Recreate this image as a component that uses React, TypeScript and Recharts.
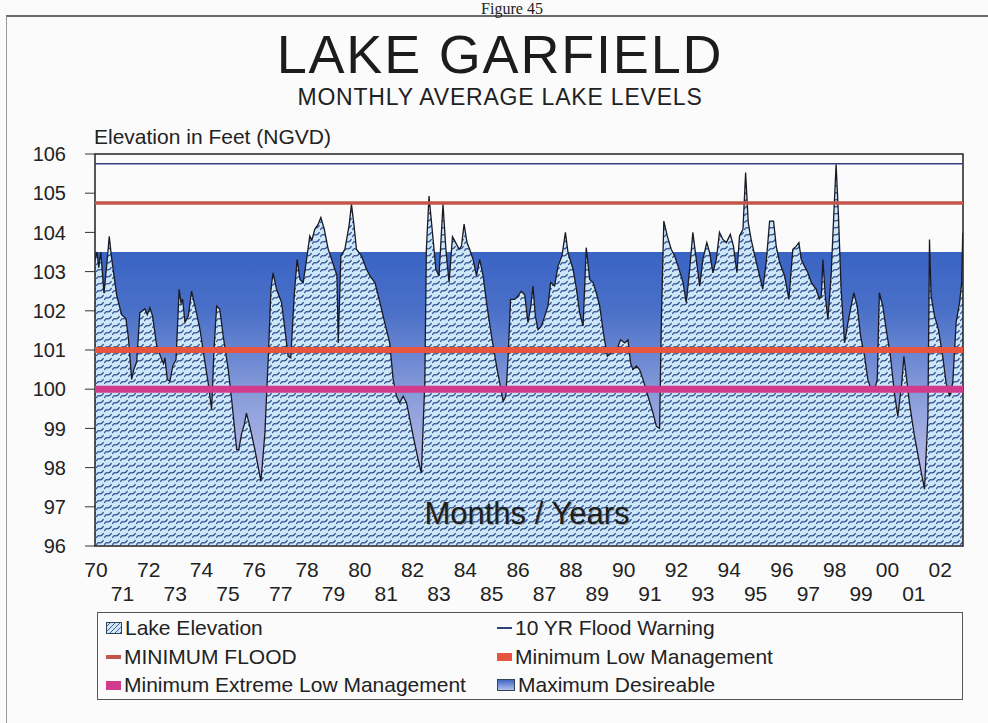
import React from 'react';
import { ComposedChart, Area, XAxis, YAxis, ReferenceLine, ReferenceArea } from 'recharts';

// Lake elevation trace (decimal year, feet NGVD)
const sampleYears = [
  1970.0, 1970.08, 1970.14, 1970.22, 1970.34, 1970.45, 1970.54, 1970.62, 1970.69, 1970.82,
  1971.01, 1971.17, 1971.26, 1971.39, 1971.47, 1971.58, 1971.7, 1971.8, 1971.89, 1971.98,
  1972.08, 1972.18, 1972.34, 1972.53, 1972.6, 1972.65, 1972.74, 1972.84, 1972.95, 1973.07,
  1973.19, 1973.26, 1973.32, 1973.41, 1973.54, 1973.66, 1973.76, 1973.83, 1973.98, 1974.17,
  1974.29, 1974.42, 1974.51, 1974.61, 1974.73, 1974.86, 1975.05, 1975.18, 1975.37, 1975.45,
  1975.56, 1975.66, 1975.74, 1975.87, 1976.06, 1976.29, 1976.44, 1976.57, 1976.67, 1976.75,
  1976.88, 1977.07, 1977.2, 1977.32, 1977.42, 1977.55, 1977.66, 1977.77, 1977.89, 1978.02,
  1978.14, 1978.22, 1978.33, 1978.46, 1978.56, 1978.69, 1978.84, 1978.97, 1979.09, 1979.17,
  1979.22, 1979.28, 1979.32, 1979.47, 1979.63, 1979.72, 1979.82, 1979.91, 1980.1, 1980.29,
  1980.42, 1980.61, 1980.8, 1980.98, 1981.17, 1981.3, 1981.43, 1981.55, 1981.68, 1981.81,
  1982.06, 1982.25, 1982.37, 1982.5, 1982.56, 1982.66, 1982.79, 1982.92, 1983.04, 1983.19,
  1983.3, 1983.42, 1983.55, 1983.67, 1983.8, 1983.89, 1983.99, 1984.1, 1984.2, 1984.33,
  1984.46, 1984.58, 1984.71, 1984.84, 1985.03, 1985.22, 1985.34, 1985.47, 1985.57, 1985.66,
  1985.75, 1985.91, 1986.03, 1986.16, 1986.29, 1986.41, 1986.52, 1986.6, 1986.69, 1986.79,
  1986.92, 1987.05, 1987.17, 1987.27, 1987.42, 1987.55, 1987.7, 1987.83, 1987.93, 1988.12,
  1988.25, 1988.37, 1988.5, 1988.62, 1988.75, 1988.88, 1989.0, 1989.13, 1989.29, 1989.42,
  1989.57, 1989.76, 1989.92, 1990.08, 1990.2, 1990.3, 1990.39, 1990.52, 1990.64, 1990.77,
  1990.96, 1991.15, 1991.28, 1991.4, 1991.47, 1991.56, 1991.69, 1991.84, 1991.97, 1992.1,
  1992.29, 1992.41, 1992.54, 1992.66, 1992.79, 1992.92, 1993.04, 1993.19, 1993.3, 1993.42,
  1993.55, 1993.67, 1993.8, 1993.93, 1994.08, 1994.2, 1994.33, 1994.43, 1994.56, 1994.66,
  1994.76, 1994.87, 1995.04, 1995.19, 1995.31, 1995.44, 1995.57, 1995.72, 1995.82, 1995.95,
  1996.14, 1996.3, 1996.45, 1996.58, 1996.68, 1996.77, 1996.89, 1997.02, 1997.15, 1997.34,
  1997.45, 1997.53, 1997.59, 1997.68, 1997.78, 1997.9, 1998.0, 1998.09, 1998.18, 1998.28,
  1998.41, 1998.54, 1998.66, 1998.76, 1998.89, 1999.02, 1999.17, 1999.29, 1999.42, 1999.55,
  1999.65, 1999.73, 1999.86, 1999.99, 2000.15, 2000.3, 2000.43, 2000.58, 2000.66, 2000.75,
  2000.87, 2001.06, 2001.25, 2001.44, 2001.57, 2001.63, 2001.69, 2001.82, 2001.97, 2002.13,
  2002.26, 2002.39, 2002.51, 2002.64, 2002.77, 2002.85, 2002.89,
];

const elevationFt = [
  103.3, 103.5, 103.1, 103.5, 102.45, 103.2, 103.9, 103.4, 103.05, 102.4,
  101.9, 101.8, 101.35, 100.25, 100.5, 100.7, 101.95, 102.0, 102.05, 101.9,
  102.08, 101.87, 101.1, 100.75, 100.65, 100.8, 100.25, 100.2, 100.6, 100.75,
  102.55, 102.2, 102.3, 101.7, 101.87, 102.5, 102.2, 102.0, 101.52, 100.67,
  100.16, 99.48, 101.0, 102.12, 102.04, 101.35, 100.5, 99.73, 98.46, 98.46,
  98.88, 99.1, 99.39, 99.05, 98.46, 97.65, 98.88, 100.84, 102.55, 102.97,
  102.55, 102.21, 101.52, 100.84, 100.8, 102.38, 103.31, 102.8, 102.72, 103.31,
  103.91, 103.8, 104.08, 104.21, 104.38, 104.08, 103.57, 103.31, 103.06, 102.9,
  101.18, 102.5, 103.4, 103.57, 104.17, 104.72, 104.17, 103.57, 103.4, 103.06,
  102.89, 102.72, 102.21, 101.7, 101.18, 100.25, 99.82, 99.65, 99.82, 99.65,
  98.8, 98.2, 97.86, 100.16, 103.57, 104.93, 104.0, 103.06, 102.89, 104.72,
  103.57, 102.72, 103.89, 103.74, 103.57, 103.65, 104.21, 103.74, 103.57, 103.31,
  102.89, 103.31, 102.89, 102.21, 101.35, 100.59, 100.16, 99.69, 99.82, 100.84,
  102.29, 102.29, 102.38, 102.5, 102.4, 101.7, 102.12, 102.63, 101.87, 101.52,
  101.61, 101.87, 102.12, 102.72, 102.63, 103.14, 103.4, 104.0, 103.48, 103.06,
  102.55, 101.95, 101.61, 103.61, 102.8, 102.72, 102.46, 102.12, 101.35, 100.84,
  100.93, 100.97, 101.26, 101.18, 101.26, 100.67, 100.5, 100.59, 100.5, 100.25,
  99.82, 99.39, 99.05, 99.0, 101.87, 104.29, 103.91, 103.57, 103.4, 103.14,
  102.72, 102.21, 103.06, 104.0, 103.31, 102.63, 103.31, 103.74, 103.48, 102.97,
  103.31, 104.0, 103.82, 103.74, 103.95, 103.65, 102.97, 103.91, 104.08, 105.53,
  104.25, 103.82, 103.31, 102.89, 102.55, 103.23, 104.29, 104.29, 103.65, 103.23,
  102.89, 102.29, 103.57, 103.65, 103.74, 103.31, 103.14, 102.97, 102.72, 102.55,
  102.3, 102.38, 103.31, 102.38, 101.78, 102.89, 104.42, 105.74, 104.42, 102.55,
  101.18, 101.7, 102.12, 102.46, 102.12, 101.35, 100.84, 100.25, 99.99, 99.99,
  100.25, 102.46, 102.12, 101.52, 100.84, 99.9, 99.31, 100.16, 100.84, 100.33,
  99.65, 98.8, 98.12, 97.45, 99.31, 103.82, 102.38, 101.87, 101.52, 100.84,
  100.16, 99.82, 100.16, 101.7, 102.21, 102.72, 103.99,
];

// year ticks and their two-row labels
const yearTicks = [
  1970, 1971, 1972, 1973, 1974, 1975, 1976, 1977, 1978, 1979, 1980, 1981, 1982, 1983, 1984, 1985, 1986,
  1987, 1988, 1989, 1990, 1991, 1992, 1993, 1994, 1995, 1996, 1997, 1998, 1999, 2000, 2001, 2002,
];
const yearLabels = [
  '70', '71', '72', '73', '74', '75', '76', '77', '78', '79', '80', '81', '82', '83', '84', '85', '86',
  '87', '88', '89', '90', '91', '92', '93', '94', '95', '96', '97', '98', '99', '00', '01', '02',
];
const elevationTicks = [96, 97, 98, 99, 100, 101, 102, 103, 104, 105, 106];

// management levels (feet NGVD)
const FLOOD_WARNING_10YR = 105.75;
const MINIMUM_FLOOD = 104.75;
const MAXIMUM_DESIRABLE = 103.5;
const MINIMUM_LOW_MGMT = 101;
const MINIMUM_EXTREME_LOW_MGMT = 100;

const legendItems = [
  { label: 'Lake Elevation', kind: 'hatch' },
  { label: '10 YR Flood Warning', kind: 'warning' },
  { label: 'MINIMUM FLOOD', kind: 'flood' },
  { label: 'Minimum Low Management', kind: 'low' },
  { label: 'Minimum Extreme Low Management', kind: 'extreme' },
  { label: 'Maximum Desireable', kind: 'desirable' },
];

const SANS = '"Liberation Sans", Arial, sans-serif';

const YearTick = ({ x, y, payload }: any) => {
  const i = yearTicks.indexOf(payload.value);
  const row = i % 2;
  return (
    <text x={x + 1} y={y + (row ? 47 : 23)} dy="0.36em" textAnchor="middle" fontSize={21} fill="#222" fontFamily={SANS}>
      {yearLabels[i]}
    </text>
  );
};

const ElevTick = ({ x, y, payload }: any) => (
  <g>
    <line x1={x - 10} x2={x} y1={y} y2={y} stroke="#333" strokeWidth={1} />
    <text x={x - 29} y={y} dy="0.36em" textAnchor="end" fontSize={20} fill="#222" fontFamily={SANS}>
      {payload.value}
    </text>
  </g>
);

const LegendIcon = ({ kind }: { kind: string }) => {
  if (kind === 'hatch')
    return (
      <svg width={16} height={12} style={{ marginRight: 3 }}>
        <rect x={0.5} y={0.5} width={15} height={11} fill="url(#lakeHatchIcon)" stroke="#345" />
      </svg>
    );
  if (kind === 'desirable')
    return (
      <svg width={18} height={12} style={{ marginRight: 3 }}>
        <rect x={0.5} y={0.5} width={17} height={11} fill="url(#desirableIcon)" stroke="#345" />
      </svg>
    );
  const spec: Record<string, [string, number]> = {
    warning: ['#33427e', 2],
    flood: ['#c0564c', 4],
    low: ['#e8553f', 8],
    extreme: ['#d03b8c', 9],
  };
  const [color, h] = spec[kind];
  return <div style={{ width: 15, height: h, background: color, marginRight: 3 }} />;
};

export default function App() {
  const data = sampleYears.map((t, i) => ({ t, elevation: elevationFt[i] }));

  return (
    <div
      style={{
        position: 'absolute',
        left: 0,
        top: 0,
        width: 988,
        height: 723,
        background: '#fbfbfb',
        overflow: 'hidden',
        fontFamily: SANS,
        color: '#222',
      }}
    >
      <svg width={0} height={0} style={{ position: 'absolute' }}>
        <defs>
          <pattern id="lakeHatchIcon" width="5" height="5" patternUnits="userSpaceOnUse">
            <rect width="5" height="5" fill="#cfe6f8" />
            <path d="M0 5 L5 0" stroke="#3f5f9e" strokeWidth="1" />
          </pattern>
          <linearGradient id="desirableIcon" x1="0" y1="0" x2="0" y2="1">
            <stop offset="0" stopColor="#3a62c2" />
            <stop offset="1" stopColor="#b9c4ee" />
          </linearGradient>
        </defs>
      </svg>

      {/* scanned page frame */}
      <div style={{ position: 'absolute', left: 6, top: 15, right: -4, bottom: -4, borderTop: '2px solid #6a6a6a', borderLeft: '1px solid #999' }} />
      <div style={{ position: 'absolute', left: 412, top: 1, width: 200, textAlign: 'center', fontFamily: '"Liberation Serif", serif', fontSize: 16, lineHeight: '16px' }}>
        Figure 45
      </div>

      <div style={{ position: 'absolute', left: 100, top: 27, width: 800, textAlign: 'center', fontSize: 54, lineHeight: '54px', letterSpacing: 1.8, color: '#1c1c1c' }}>
        LAKE GARFIELD
      </div>
      <div style={{ position: 'absolute', left: 100, top: 86, width: 800, textAlign: 'center', fontSize: 23, lineHeight: '23px', letterSpacing: 0.8 }}>
        MONTHLY AVERAGE LAKE LEVELS
      </div>
      <div style={{ position: 'absolute', left: 94, top: 126, fontSize: 21, lineHeight: '21px' }}>Elevation in Feet (NGVD)</div>

      <div style={{ position: 'absolute', left: 0, top: 0 }}>
        <ComposedChart width={988} height={723} data={data} margin={{ top: 154, right: 25, bottom: 117, left: 35 }}>
          <defs>
            <pattern id="lakeHatch" width="8" height="7" patternUnits="userSpaceOnUse">
              <rect width="8" height="7" fill="#cde7f9" />
              <path d="M0.3 6 Q1.6 3.2 3.6 3.8 T7.6 1.2" stroke="#2f4f92" strokeWidth="1.25" fill="none" />
            </pattern>
            <linearGradient id="desirableFill" x1="0" y1="0" x2="0" y2="1">
              <stop offset="0" stopColor="#3a64c4" />
              <stop offset="0.2" stopColor="#4a70c8" />
              <stop offset="0.5" stopColor="#8b9edb" />
              <stop offset="0.75" stopColor="#b6bae7" />
              <stop offset="1" stopColor="#d4d4f2" />
            </linearGradient>
          </defs>
          <XAxis
            dataKey="t"
            type="number"
            domain={[1970, 2002.9]}
            ticks={yearTicks}
            interval={0}
            allowDataOverflow
            axisLine={false}
            tickLine={false}
            tickSize={0}
            tickMargin={0}
            height={60}
            tick={YearTick}
          />
          <YAxis
            type="number"
            domain={[96, 106]}
            ticks={elevationTicks}
            interval={0}
            allowDataOverflow
            axisLine={false}
            tickLine={false}
            tickSize={0}
            tickMargin={0}
            width={60}
            tick={ElevTick}
          />
          <ReferenceArea y1={96} y2={MAXIMUM_DESIRABLE} fill="url(#desirableFill)" fillOpacity={1} stroke="none" />
          <Area
            type="linear"
            dataKey="elevation"
            baseValue={96}
            fill="url(#lakeHatch)"
            fillOpacity={1}
            stroke="#1a1a24"
            strokeWidth={1.3}
            dot={false}
            activeDot={false}
            isAnimationActive={false}
          />
          <ReferenceLine y={FLOOD_WARNING_10YR} stroke="#33427e" strokeWidth={1.6} />
          <ReferenceLine y={MINIMUM_FLOOD} stroke="#c4574a" strokeWidth={3.5} />
          <ReferenceLine y={MINIMUM_LOW_MGMT} stroke="#e8553f" strokeWidth={6} />
          <ReferenceLine y={MINIMUM_EXTREME_LOW_MGMT} stroke="#d03b8c" strokeWidth={7} />
          <ReferenceArea y1={96} y2={106} fill="none" stroke="#222" strokeWidth={1.5} />
        </ComposedChart>
      </div>

      <div style={{ position: 'absolute', left: 327, top: 496, width: 400, textAlign: 'center', fontSize: 31, lineHeight: '36px', color: '#1e1e1e', textShadow: '1px 1px 1px rgba(90,90,90,0.5)' }}>
        Months / Years
      </div>

      <div style={{ position: 'absolute', left: 97, top: 612, width: 866, height: 88, border: '1.5px solid #555', boxSizing: 'border-box' }} />
      {legendItems.map((item, i) => {
        const col = i % 2;
        const row = Math.floor(i / 2);
        return (
          <div
            key={item.label}
            style={{
              position: 'absolute',
              left: col ? 497 : 106,
              top: 616 + row * 28.5,
              height: 24,
              display: 'flex',
              alignItems: 'center',
              fontSize: 21,
              lineHeight: '24px',
              whiteSpace: 'nowrap',
            }}
          >
            <LegendIcon kind={item.kind} />
            <span>{item.label}</span>
          </div>
        );
      })}
    </div>
  );
}
